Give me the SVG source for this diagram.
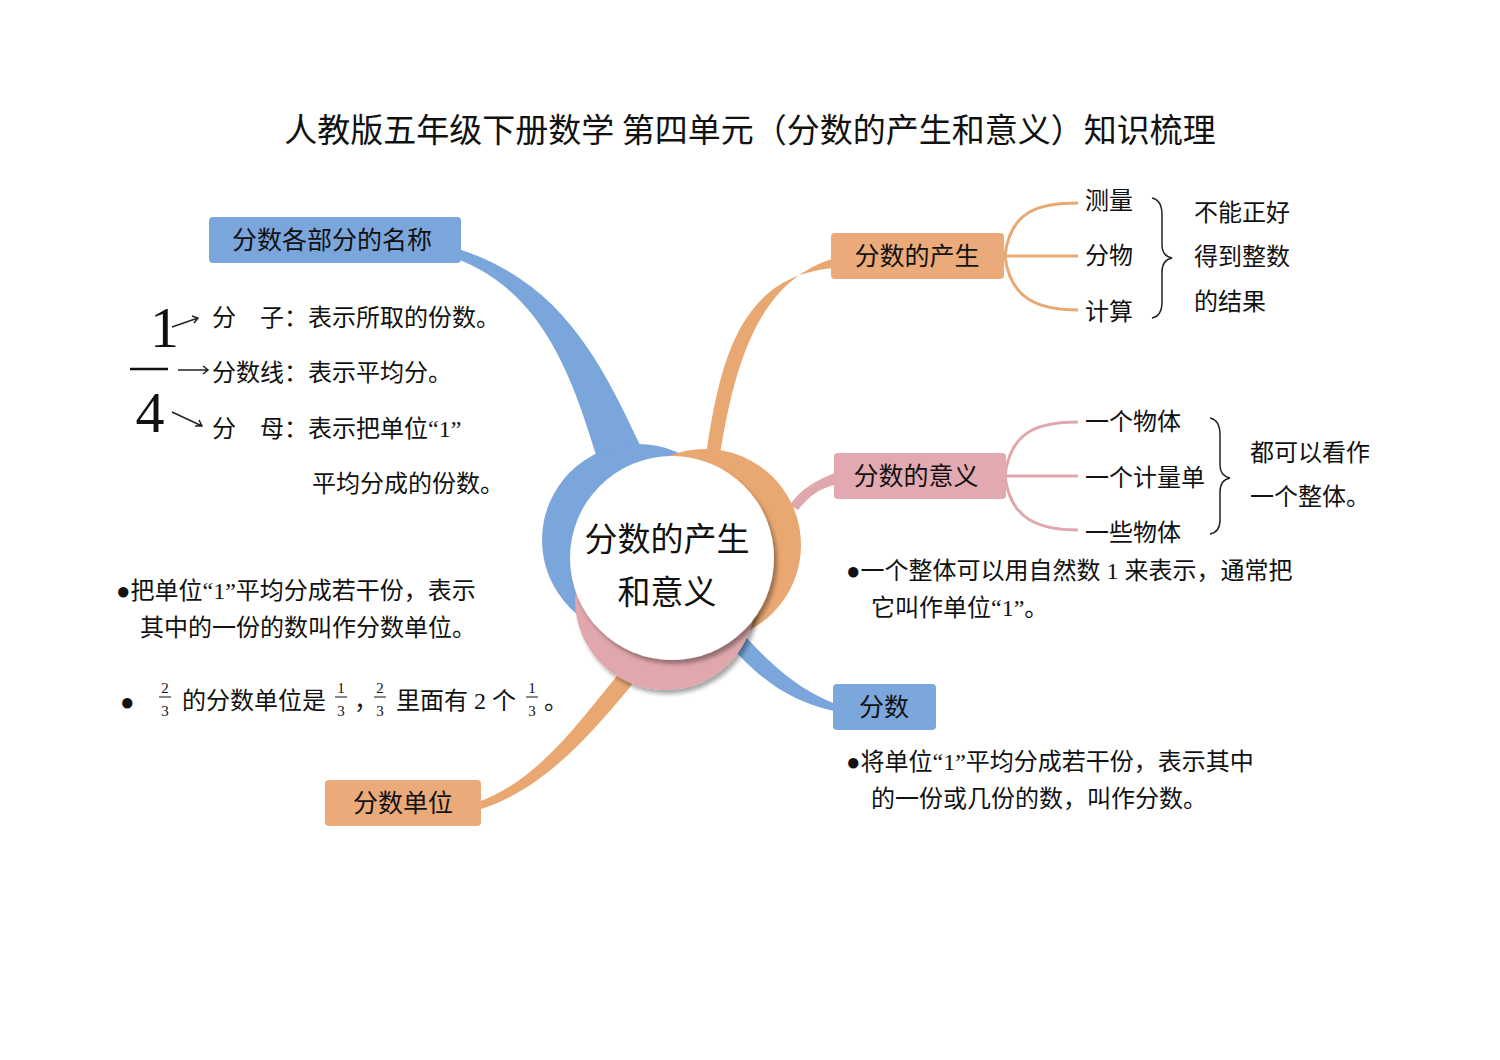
<svg xmlns="http://www.w3.org/2000/svg" width="1500" height="1060" viewBox="0 0 1500 1060">
<style>
text{font-family:"Liberation Serif","Noto Sans CJK SC",serif;fill:#111}
.t{font-size:24px}
.b{font-size:25px}
.lab{font-size:25px;font-family:"Noto Sans CJK SC",sans-serif}
.n{font-size:15px}
</style>
<defs>
<filter id="sh" x="-20%" y="-20%" width="140%" height="140%"><feDropShadow dx="3" dy="4" stdDeviation="2" flood-color="#000" flood-opacity="0.35"/></filter>
</defs>
<rect width="1500" height="1060" fill="#fff"/>
<text x="750" y="142" text-anchor="middle" style="font-size:33px;font-family:'Noto Sans CJK SC',sans-serif">人教版五年级下册数学  第四单元（分数的产生和意义）知识梳理</text>
<g id="connectors">
<path d="M455,248 C560,280 600,360 640,445 L596,455 C570,370 540,290 455,258 Z" fill="#7aa6db"/>
<path d="M835,258 C760,280 735,360 720,455 L706,455 C720,360 740,275 835,268 Z" fill="#e9a872"/>
<path d="M838,472 C815,480 800,490 790,505 L798,510 C810,495 820,488 838,484 Z" fill="#e0a8ac"/>
<path d="M735,625 C775,670 800,690 838,705 L838,712 C790,702 760,680 725,640 Z" fill="#7aa6db"/>
<path d="M630,660 C580,720 540,780 478,802 L478,810 C545,790 595,730 640,675 Z" fill="#e9a872"/>
<g fill="none" stroke-width="3">
<path d="M1005,256 C1010,210 1040,203 1078,203" stroke="#e9a872"/>
<path d="M1005,256 L1078,256" stroke="#e9a872"/>
<path d="M1005,256 C1010,300 1040,310 1078,310" stroke="#e9a872"/>
<path d="M1005,476 C1010,430 1040,422 1078,422" stroke="#e0a8ac"/>
<path d="M1005,476 L1078,476" stroke="#e0a8ac"/>
<path d="M1005,476 C1010,520 1040,530 1078,530" stroke="#e0a8ac"/>
</g>
<g fill="none" stroke="#222" stroke-width="1.5">
<path d="M1152,198 Q1162,200 1162,215 L1162,245 Q1162,256 1172,258 Q1162,260 1162,272 L1162,302 Q1162,316 1152,318"/>
<path d="M1210,418 Q1220,420 1220,435 L1220,465 Q1220,476 1230,478 Q1220,480 1220,492 L1220,520 Q1220,532 1210,534"/>
<path d="M172,327 L198,318 M192,316 L198,318 L194,323"/>
<path d="M178,370 L208,370 M203,366 L208,370 L203,374"/>
<path d="M172,412 L202,426 M195,426 L202,426 L199,420"/>
</g>
</g>
<g id="center">
<circle cx="638" cy="540" r="96" fill="#7aa6db"/>
<circle cx="705" cy="545" r="96" fill="#e9a872"/>
<circle cx="665" cy="600" r="90" fill="#e0a8ac" filter="url(#sh)"/>
<circle cx="672" cy="558" r="102" fill="#fff" filter="url(#sh)"/>
<text x="667" y="551" text-anchor="middle" style="font-size:33px;font-family:'Noto Sans CJK SC',sans-serif">分数的产生</text>
<text x="667" y="604" text-anchor="middle" style="font-size:33px;font-family:'Noto Sans CJK SC',sans-serif">和意义</text>
</g>
<g id="names">
<rect x="209" y="217" width="252" height="46" rx="4" fill="#7aa6db"/>
<text x="332" y="249" text-anchor="middle" class="lab">分数各部分的名称</text>
<text x="150" y="347" style="font-size:58px">1</text>
<line x1="130" y1="369" x2="168" y2="369" stroke="#111" stroke-width="2.5"/>
<text x="150" y="432" text-anchor="middle" style="font-size:58px">4</text>
<text x="212" y="326" class="t">分　子：表示所取的份数。</text>
<text x="212" y="381" class="t">分数线：表示平均分。</text>
<text x="212" y="437" class="t">分　母：表示把单位“1”</text>
<text x="312" y="492" class="t">平均分成的份数。</text>
<text x="116" y="599" class="t">●把单位“1”平均分成若干份，表示</text>
<text x="140" y="636" class="t">其中的一份的数叫作分数单位。</text>
</g>
<g id="unit">
<text x="120" y="710" class="t">●</text>
<text x="165" y="693" text-anchor="middle" class="n">2</text><line x1="159" y1="697" x2="171" y2="697" stroke="#111"/><text x="165" y="716" text-anchor="middle" class="n">3</text>
<text x="182" y="709" class="t">的分数单位是</text>
<text x="341" y="693" text-anchor="middle" class="n">1</text><line x1="335" y1="697" x2="347" y2="697" stroke="#111"/><text x="341" y="716" text-anchor="middle" class="n">3</text>
<text x="354" y="709" class="t">，</text>
<text x="380" y="693" text-anchor="middle" class="n">2</text><line x1="374" y1="697" x2="386" y2="697" stroke="#111"/><text x="380" y="716" text-anchor="middle" class="n">3</text>
<text x="396" y="709" class="t">里面有 2 个</text>
<text x="532" y="693" text-anchor="middle" class="n">1</text><line x1="526" y1="697" x2="538" y2="697" stroke="#111"/><text x="532" y="716" text-anchor="middle" class="n">3</text>
<text x="544" y="709" class="t">。</text>
<rect x="325" y="780" width="156" height="46" rx="4" fill="#eaaa7a"/>
<text x="403" y="812" text-anchor="middle" class="lab">分数单位</text>
</g>
<g id="origin">
<rect x="831" y="233" width="173" height="46" rx="4" fill="#eaaa7a"/>
<text x="917" y="265" text-anchor="middle" class="lab">分数的产生</text>
<text x="1085" y="209" class="t">测量</text>
<text x="1085" y="264" class="t">分物</text>
<text x="1085" y="320" class="t">计算</text>
<text x="1194" y="221" class="t">不能正好</text>
<text x="1194" y="265" class="t">得到整数</text>
<text x="1194" y="310" class="t">的结果</text>
</g>
<g id="meaning">
<rect x="834" y="453" width="172" height="46" rx="4" fill="#e2aab0"/>
<text x="916" y="485" text-anchor="middle" class="lab">分数的意义</text>
<text x="1085" y="430" class="t">一个物体</text>
<text x="1085" y="486" class="t">一个计量单</text>
<text x="1085" y="541" class="t">一些物体</text>
<text x="1250" y="461" class="t">都可以看作</text>
<text x="1250" y="505" class="t">一个整体。</text>
<text x="846" y="579" class="t">●一个整体可以用自然数 1 来表示，通常把</text>
<text x="871" y="616" class="t">它叫作单位“1”。</text>
</g>
<g id="fraction">
<rect x="833" y="684" width="103" height="46" rx="4" fill="#7ba7dc"/>
<text x="884" y="716" text-anchor="middle" class="lab">分数</text>
<text x="846" y="770" class="t">●将单位“1”平均分成若干份，表示其中</text>
<text x="871" y="807" class="t">的一份或几份的数，叫作分数。</text>
</g>
</svg>
